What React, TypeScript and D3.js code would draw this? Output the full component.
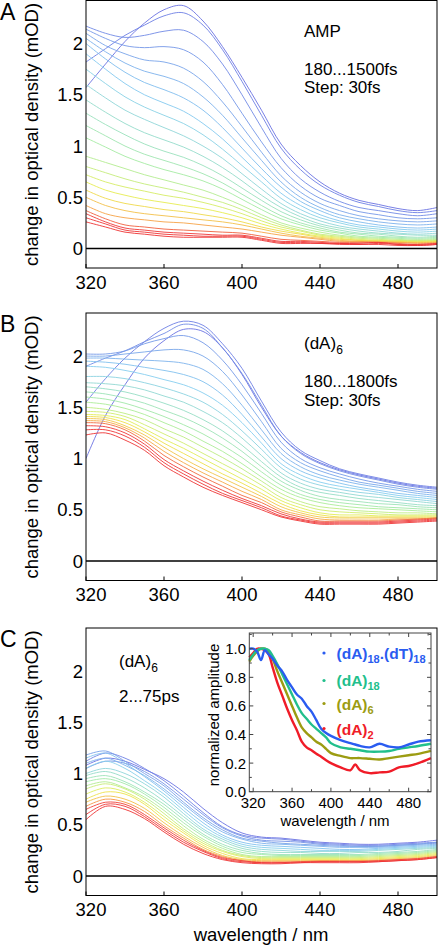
import React from "react";
import * as d3 from "d3";

// ---------- DATA ----------
const WL = [320, 330, 340, 350, 360, 370, 380, 390, 400, 410, 420, 430, 440, 450, 460, 470, 480, 490, 500];

// Panel A: AMP, 180...1500 fs (early -> late)
const ampSpectra = [
  [1.57, 1.80, 2.02, 2.20, 2.33, 2.37, 2.22, 1.97, 1.67, 1.35, 1.02, 0.81, 0.65, 0.54, 0.47, 0.43, 0.39, 0.37, 0.40],
  [1.82, 1.95, 2.08, 2.18, 2.27, 2.30, 2.18, 1.94, 1.63, 1.30, 0.98, 0.77, 0.62, 0.52, 0.45, 0.41, 0.37, 0.35, 0.37],
  [2.17, 2.10, 2.06, 2.08, 2.12, 2.13, 2.02, 1.80, 1.50, 1.18, 0.88, 0.68, 0.55, 0.46, 0.40, 0.37, 0.34, 0.32, 0.34],
  [2.14, 2.05, 1.98, 1.96, 1.97, 1.94, 1.82, 1.60, 1.32, 1.04, 0.79, 0.61, 0.49, 0.42, 0.36, 0.33, 0.30, 0.29, 0.30],
  [2.10, 1.98, 1.90, 1.84, 1.82, 1.76, 1.63, 1.43, 1.19, 0.94, 0.71, 0.55, 0.44, 0.37, 0.32, 0.29, 0.27, 0.26, 0.27],
  [2.05, 1.92, 1.81, 1.73, 1.68, 1.61, 1.48, 1.30, 1.08, 0.86, 0.65, 0.50, 0.40, 0.33, 0.29, 0.26, 0.24, 0.23, 0.24],
  [2.00, 1.85, 1.72, 1.62, 1.55, 1.47, 1.35, 1.18, 0.98, 0.78, 0.60, 0.46, 0.37, 0.30, 0.26, 0.23, 0.21, 0.20, 0.21],
  [1.90, 1.75, 1.61, 1.50, 1.42, 1.34, 1.22, 1.07, 0.89, 0.71, 0.54, 0.42, 0.33, 0.27, 0.23, 0.21, 0.19, 0.18, 0.19],
  [1.75, 1.61, 1.48, 1.38, 1.30, 1.22, 1.11, 0.97, 0.81, 0.65, 0.49, 0.38, 0.30, 0.25, 0.21, 0.19, 0.17, 0.16, 0.17],
  [1.60, 1.47, 1.35, 1.26, 1.18, 1.10, 1.00, 0.88, 0.73, 0.58, 0.44, 0.34, 0.27, 0.22, 0.19, 0.17, 0.15, 0.14, 0.15],
  [1.45, 1.33, 1.22, 1.13, 1.06, 0.99, 0.90, 0.79, 0.66, 0.52, 0.40, 0.31, 0.24, 0.20, 0.17, 0.15, 0.14, 0.13, 0.13],
  [1.32, 1.21, 1.11, 1.02, 0.95, 0.89, 0.81, 0.71, 0.59, 0.47, 0.36, 0.28, 0.22, 0.18, 0.15, 0.14, 0.12, 0.11, 0.12],
  [1.20, 1.10, 1.00, 0.92, 0.86, 0.80, 0.73, 0.64, 0.53, 0.42, 0.32, 0.25, 0.20, 0.16, 0.14, 0.12, 0.11, 0.10, 0.11],
  [1.08, 0.99, 0.90, 0.83, 0.77, 0.72, 0.66, 0.58, 0.48, 0.38, 0.29, 0.23, 0.18, 0.15, 0.12, 0.11, 0.10, 0.09, 0.10],
  [0.90, 0.84, 0.78, 0.72, 0.67, 0.62, 0.57, 0.50, 0.42, 0.33, 0.25, 0.20, 0.16, 0.13, 0.11, 0.10, 0.09, 0.08, 0.09],
  [0.80, 0.74, 0.68, 0.63, 0.59, 0.55, 0.50, 0.45, 0.38, 0.30, 0.23, 0.18, 0.14, 0.12, 0.10, 0.09, 0.08, 0.08, 0.08],
  [0.72, 0.65, 0.60, 0.56, 0.52, 0.49, 0.45, 0.40, 0.34, 0.27, 0.21, 0.17, 0.13, 0.11, 0.09, 0.08, 0.08, 0.07, 0.08],
  [0.65, 0.57, 0.52, 0.48, 0.45, 0.42, 0.39, 0.35, 0.30, 0.24, 0.19, 0.15, 0.12, 0.10, 0.08, 0.08, 0.07, 0.07, 0.07],
  [0.57, 0.49, 0.44, 0.41, 0.38, 0.36, 0.33, 0.30, 0.26, 0.21, 0.17, 0.14, 0.11, 0.09, 0.08, 0.07, 0.07, 0.06, 0.07],
  [0.50, 0.42, 0.37, 0.34, 0.32, 0.30, 0.28, 0.26, 0.23, 0.19, 0.15, 0.12, 0.10, 0.08, 0.07, 0.07, 0.06, 0.06, 0.06],
  [0.42, 0.34, 0.30, 0.28, 0.26, 0.25, 0.23, 0.21, 0.19, 0.16, 0.13, 0.11, 0.09, 0.07, 0.07, 0.06, 0.06, 0.05, 0.06],
  [0.37, 0.29, 0.23, 0.21, 0.19, 0.18, 0.17, 0.16, 0.15, 0.12, 0.09, 0.08, 0.07, 0.06, 0.06, 0.06, 0.05, 0.04, 0.05],
  [0.34, 0.26, 0.20, 0.18, 0.16, 0.15, 0.14, 0.13, 0.13, 0.10, 0.07, 0.07, 0.06, 0.05, 0.05, 0.06, 0.04, 0.04, 0.05],
  [0.30, 0.24, 0.18, 0.16, 0.14, 0.13, 0.12, 0.12, 0.12, 0.09, 0.06, 0.06, 0.05, 0.05, 0.04, 0.05, 0.04, 0.03, 0.04],
  [0.26, 0.21, 0.16, 0.14, 0.12, 0.11, 0.11, 0.11, 0.11, 0.08, 0.05, 0.05, 0.05, 0.04, 0.04, 0.04, 0.03, 0.03, 0.04],
];

// Panel B: (dA)6, 180...1800 fs
const dA6fsSpectra = [
  [1.00, 1.42, 1.72, 1.98, 2.15, 2.26, 2.24, 2.08, 1.82, 1.50, 1.22, 1.06, 0.96, 0.89, 0.84, 0.80, 0.76, 0.73, 0.71],
  [1.55, 1.78, 1.98, 2.14, 2.27, 2.34, 2.30, 2.12, 1.88, 1.56, 1.26, 1.08, 0.98, 0.90, 0.85, 0.81, 0.77, 0.74, 0.72],
  [1.90, 1.98, 2.05, 2.14, 2.22, 2.31, 2.27, 2.08, 1.83, 1.52, 1.22, 1.05, 0.95, 0.88, 0.83, 0.79, 0.75, 0.72, 0.70],
  [2.02, 2.02, 2.05, 2.12, 2.17, 2.20, 2.13, 1.96, 1.72, 1.44, 1.16, 1.00, 0.91, 0.85, 0.80, 0.76, 0.73, 0.70, 0.68],
  [2.00, 2.00, 2.02, 2.04, 2.06, 2.06, 2.00, 1.85, 1.62, 1.36, 1.10, 0.96, 0.88, 0.82, 0.77, 0.74, 0.71, 0.68, 0.66],
  [1.98, 1.98, 1.97, 1.96, 1.95, 1.93, 1.87, 1.73, 1.52, 1.28, 1.05, 0.92, 0.84, 0.79, 0.75, 0.72, 0.69, 0.66, 0.64],
  [1.95, 1.94, 1.92, 1.89, 1.86, 1.82, 1.75, 1.62, 1.43, 1.21, 1.00, 0.88, 0.81, 0.76, 0.72, 0.69, 0.66, 0.64, 0.62],
  [1.90, 1.89, 1.86, 1.82, 1.77, 1.72, 1.64, 1.52, 1.35, 1.15, 0.95, 0.84, 0.77, 0.73, 0.70, 0.67, 0.64, 0.62, 0.60],
  [1.80, 1.80, 1.78, 1.74, 1.69, 1.63, 1.55, 1.43, 1.27, 1.09, 0.91, 0.80, 0.74, 0.70, 0.67, 0.65, 0.62, 0.60, 0.58],
  [1.74, 1.73, 1.71, 1.67, 1.61, 1.55, 1.46, 1.35, 1.20, 1.03, 0.86, 0.76, 0.70, 0.67, 0.64, 0.62, 0.60, 0.58, 0.56],
  [1.70, 1.68, 1.65, 1.60, 1.54, 1.47, 1.38, 1.27, 1.13, 0.97, 0.82, 0.72, 0.67, 0.64, 0.61, 0.59, 0.57, 0.55, 0.54],
  [1.65, 1.63, 1.59, 1.54, 1.47, 1.40, 1.31, 1.20, 1.07, 0.92, 0.78, 0.69, 0.63, 0.60, 0.58, 0.56, 0.55, 0.53, 0.52],
  [1.60, 1.58, 1.54, 1.48, 1.41, 1.33, 1.24, 1.13, 1.01, 0.87, 0.74, 0.65, 0.60, 0.57, 0.55, 0.53, 0.52, 0.51, 0.50],
  [1.55, 1.53, 1.49, 1.43, 1.35, 1.27, 1.17, 1.07, 0.95, 0.82, 0.70, 0.62, 0.57, 0.54, 0.52, 0.51, 0.50, 0.49, 0.48],
  [1.50, 1.48, 1.44, 1.38, 1.29, 1.21, 1.11, 1.01, 0.90, 0.78, 0.66, 0.58, 0.53, 0.51, 0.49, 0.48, 0.47, 0.47, 0.46],
  [1.46, 1.45, 1.41, 1.33, 1.24, 1.15, 1.05, 0.95, 0.85, 0.74, 0.62, 0.55, 0.50, 0.48, 0.47, 0.46, 0.45, 0.45, 0.45],
  [1.43, 1.42, 1.38, 1.29, 1.19, 1.10, 1.00, 0.90, 0.80, 0.70, 0.59, 0.52, 0.47, 0.45, 0.45, 0.44, 0.44, 0.44, 0.44],
  [1.41, 1.40, 1.35, 1.26, 1.15, 1.05, 0.95, 0.85, 0.76, 0.66, 0.56, 0.49, 0.45, 0.43, 0.43, 0.43, 0.43, 0.43, 0.43],
  [1.39, 1.38, 1.32, 1.23, 1.11, 1.00, 0.90, 0.81, 0.72, 0.63, 0.53, 0.47, 0.43, 0.42, 0.42, 0.42, 0.42, 0.42, 0.42],
  [1.37, 1.36, 1.30, 1.20, 1.07, 0.96, 0.86, 0.77, 0.68, 0.60, 0.50, 0.45, 0.41, 0.40, 0.40, 0.40, 0.41, 0.41, 0.42],
  [1.35, 1.34, 1.28, 1.17, 1.03, 0.92, 0.82, 0.73, 0.64, 0.57, 0.48, 0.43, 0.39, 0.39, 0.39, 0.39, 0.40, 0.41, 0.42],
  [1.32, 1.31, 1.25, 1.14, 0.99, 0.88, 0.78, 0.69, 0.61, 0.54, 0.46, 0.41, 0.38, 0.38, 0.38, 0.38, 0.39, 0.40, 0.41],
  [1.28, 1.28, 1.22, 1.11, 0.96, 0.85, 0.75, 0.66, 0.59, 0.52, 0.44, 0.40, 0.37, 0.37, 0.37, 0.37, 0.38, 0.39, 0.40],
  [1.23, 1.25, 1.18, 1.08, 0.93, 0.82, 0.72, 0.64, 0.57, 0.50, 0.43, 0.39, 0.36, 0.36, 0.36, 0.36, 0.37, 0.38, 0.39],
];

// Panel C: (dA)6, 2...75 ps
const dA6psSpectra = [
  [1.08, 1.15, 1.12, 1.04, 0.95, 0.82, 0.66, 0.52, 0.42, 0.38, 0.37, 0.35, 0.33, 0.32, 0.31, 0.31, 0.32, 0.33, 0.35],
  [1.12, 1.20, 1.15, 1.05, 0.93, 0.78, 0.62, 0.48, 0.40, 0.37, 0.36, 0.34, 0.32, 0.31, 0.30, 0.30, 0.31, 0.32, 0.33],
  [1.05, 1.12, 1.10, 1.02, 0.90, 0.75, 0.60, 0.47, 0.39, 0.35, 0.34, 0.33, 0.31, 0.30, 0.29, 0.29, 0.30, 0.31, 0.32],
  [1.18, 1.22, 1.12, 1.00, 0.88, 0.72, 0.57, 0.45, 0.37, 0.34, 0.32, 0.31, 0.30, 0.29, 0.29, 0.29, 0.30, 0.31, 0.33],
  [1.10, 1.15, 1.08, 0.98, 0.85, 0.70, 0.55, 0.43, 0.36, 0.32, 0.31, 0.30, 0.29, 0.28, 0.28, 0.28, 0.29, 0.30, 0.31],
  [1.15, 1.20, 1.10, 0.97, 0.83, 0.67, 0.52, 0.40, 0.33, 0.30, 0.29, 0.28, 0.27, 0.26, 0.26, 0.27, 0.28, 0.29, 0.30],
  [1.05, 1.12, 1.05, 0.93, 0.80, 0.64, 0.49, 0.38, 0.31, 0.28, 0.27, 0.26, 0.25, 0.25, 0.25, 0.26, 0.27, 0.28, 0.29],
  [1.00, 1.05, 1.00, 0.90, 0.77, 0.61, 0.46, 0.36, 0.29, 0.26, 0.25, 0.24, 0.24, 0.24, 0.24, 0.25, 0.26, 0.27, 0.28],
  [0.98, 1.02, 0.96, 0.86, 0.73, 0.58, 0.44, 0.34, 0.27, 0.24, 0.23, 0.23, 0.22, 0.22, 0.23, 0.23, 0.24, 0.26, 0.27],
  [0.95, 0.98, 0.92, 0.82, 0.70, 0.55, 0.41, 0.31, 0.25, 0.22, 0.21, 0.21, 0.21, 0.21, 0.21, 0.22, 0.23, 0.24, 0.26],
  [0.92, 0.95, 0.90, 0.80, 0.67, 0.52, 0.39, 0.29, 0.23, 0.21, 0.20, 0.20, 0.20, 0.20, 0.20, 0.21, 0.22, 0.23, 0.25],
  [0.88, 0.92, 0.86, 0.77, 0.64, 0.49, 0.36, 0.27, 0.21, 0.19, 0.19, 0.19, 0.19, 0.19, 0.19, 0.20, 0.21, 0.22, 0.24],
  [0.85, 0.90, 0.85, 0.75, 0.61, 0.46, 0.34, 0.25, 0.20, 0.18, 0.18, 0.18, 0.18, 0.18, 0.18, 0.19, 0.20, 0.21, 0.23],
  [0.80, 0.86, 0.82, 0.72, 0.58, 0.44, 0.32, 0.24, 0.19, 0.17, 0.17, 0.17, 0.17, 0.17, 0.17, 0.18, 0.19, 0.20, 0.22],
  [0.75, 0.82, 0.80, 0.70, 0.55, 0.42, 0.30, 0.22, 0.17, 0.16, 0.16, 0.16, 0.16, 0.16, 0.16, 0.17, 0.18, 0.19, 0.21],
  [0.72, 0.78, 0.75, 0.66, 0.52, 0.39, 0.28, 0.20, 0.16, 0.15, 0.15, 0.15, 0.15, 0.15, 0.15, 0.16, 0.17, 0.18, 0.20],
  [0.68, 0.75, 0.72, 0.63, 0.49, 0.37, 0.26, 0.19, 0.15, 0.14, 0.14, 0.14, 0.15, 0.15, 0.15, 0.15, 0.16, 0.17, 0.19],
  [0.65, 0.72, 0.70, 0.60, 0.47, 0.35, 0.25, 0.18, 0.15, 0.13, 0.13, 0.14, 0.14, 0.14, 0.14, 0.15, 0.16, 0.17, 0.19],
  [0.60, 0.70, 0.68, 0.58, 0.45, 0.33, 0.24, 0.17, 0.14, 0.13, 0.13, 0.13, 0.14, 0.14, 0.14, 0.14, 0.15, 0.16, 0.18],
  [0.55, 0.68, 0.65, 0.56, 0.43, 0.31, 0.22, 0.16, 0.13, 0.12, 0.12, 0.13, 0.13, 0.13, 0.13, 0.14, 0.15, 0.16, 0.18],
];

// Inset: normalized amplitude
const insetWL = [316, 320, 324, 328, 332, 336, 340, 345, 350, 355, 360, 365, 370, 375, 380, 385, 390, 395, 400, 410, 420, 425, 430, 440, 450, 460, 470, 480, 490, 503];
const insetDA18DT18 = [1.00, 1.00, 0.98, 0.92, 0.99, 0.96, 0.93, 0.88, 0.84, 0.78, 0.73, 0.68, 0.65, 0.60, 0.56, 0.50, 0.44, 0.41, 0.39, 0.36, 0.34, 0.33, 0.32, 0.31, 0.335, 0.315, 0.31, 0.33, 0.35, 0.36];
const insetDA18 = [0.92, 0.96, 0.99, 1.00, 1.00, 0.99, 0.95, 0.89, 0.82, 0.75, 0.68, 0.61, 0.55, 0.51, 0.47, 0.44, 0.41, 0.38, 0.34, 0.31, 0.30, 0.295, 0.29, 0.28, 0.28, 0.285, 0.30, 0.31, 0.32, 0.335];
const insetDA6 = [0.91, 0.95, 0.98, 1.00, 1.00, 0.98, 0.93, 0.84, 0.76, 0.68, 0.60, 0.52, 0.45, 0.41, 0.38, 0.35, 0.33, 0.30, 0.27, 0.25, 0.235, 0.235, 0.235, 0.23, 0.225, 0.235, 0.245, 0.255, 0.265, 0.285];
const insetDA2 = [0.94, 0.97, 1.00, 1.00, 0.99, 0.96, 0.87, 0.76, 0.67, 0.58, 0.50, 0.43, 0.35, 0.31, 0.29, 0.265, 0.245, 0.22, 0.20, 0.17, 0.15, 0.19, 0.15, 0.13, 0.135, 0.14, 0.17, 0.18, 0.20, 0.235];

const xTicks = [320, 360, 400, 440, 480];
const yTicks = [0, 0.5, 1, 1.5, 2];
const yTickLabels = ["0", "0.5", "1", "1.5", "2"];
const insetYTicks = [0, 0.2, 0.4, 0.6, 0.8, 1.0];
const insetYTickLabels = ["0.0", "0.2", "0.4", "0.6", "0.8", "1.0"];

// ---------- STYLE ----------
const FONT = "'Liberation Sans', Arial, Helvetica, sans-serif";
const PAL_STOPS = [0, 0.3, 0.55, 0.72, 0.83, 0.9, 1];
const PAL_COLORS = ["#6a72e2", "#86cdf0", "#a6eca0", "#ecec4c", "#f6a848", "#ee3a3a", "#ee3434"];
const palette = d3.scaleLinear<string>().domain(PAL_STOPS).range(PAL_COLORS).interpolate(d3.interpolateRgb);

const X0 = 86, X1 = 437, PH = 267.5;
const xMain = d3.scaleLinear().domain([320, 500]).range([X0, X1]);

function Panel({ top, spectra, letter, id, children }: any) {
  const y = d3.scaleLinear().domain([-0.19, 2.42]).range([top + PH, top]);
  const line = d3.line<number>()
    .x((_, i) => xMain(WL[i]))
    .y((v) => y(v))
    .curve(d3.curveCatmullRom.alpha(0.5));
  const n = spectra.length;
  return (
    <g>
      <defs>
        <clipPath id={id}>
          <rect x={X0} y={top} width={X1 - X0} height={PH} />
        </clipPath>
      </defs>
      <g clipPath={`url(#${id})`}>
        {spectra.map((s: number[], i: number) => (
          <path key={i} d={line(s) || ""} fill="none" stroke={palette(i / (n - 1))}
            strokeWidth={1} strokeOpacity={0.9} />
        ))}
      </g>
      <line x1={X0} x2={X1} y1={y(0)} y2={y(0)} stroke="#000" strokeWidth={1.5} />
      <rect x={X0} y={top} width={X1 - X0} height={PH} fill="none" stroke="#000" strokeWidth={1} />
      {xTicks.map((t) => (
        <g key={t}>
          <line x1={xMain(t)} x2={xMain(t)} y1={top + PH} y2={top + PH - 4} stroke="#000" strokeWidth={1} />
          <text x={xMain(t) + (t === 320 ? 5 : 0)} y={top + 288} textAnchor="middle" fontSize={18.5} fontFamily={FONT}>{t}</text>
        </g>
      ))}
      {yTicks.map((t, i) => (
        <text key={t} x={83} y={y(t)} dy="0.36em" textAnchor="end" fontSize={18.5} fontFamily={FONT}>{yTickLabels[i]}</text>
      ))}
      <text transform={`translate(38, ${top + 134}) rotate(-90)`} textAnchor="middle" fontSize={18.5} fontFamily={FONT}>
        change in optical density (mOD)
      </text>
      <text x={0} y={top + 19} fontSize={23} fontFamily={FONT}>{letter}</text>
      {children}
    </g>
  );
}

function Inset() {
  const xI = d3.scaleLinear().domain([316, 503]).range([249.3, 431]);
  const yI = d3.scaleLinear().domain([0, 1.11]).range([791.7, 633]);
  const line = d3.line<number>().x((_, i) => xI(insetWL[i])).y((v) => yI(v)).curve(d3.curveCatmullRom.alpha(0.5));
  const series = [
    { vals: insetDA2, color: "#f01c28" },
    { vals: insetDA6, color: "#9c9c12" },
    { vals: insetDA18, color: "#22bf8c" },
    { vals: insetDA18DT18, color: "#2a5cf0" },
  ];
  const l = 249.3, r = 431, t = 633, b = 791.7;
  const xMajor = [320, 360, 400, 440, 480];
  const xMinor = [340, 380, 420, 460, 500];
  const yMinor = [0.1, 0.3, 0.5, 0.7, 0.9, 1.1];
  return (
    <g>
      <rect x={l} y={t} width={r - l} height={b - t} fill="#fff" />
      {series.map((s, i) => (
        <path key={i} d={line(s.vals) || ""} fill="none" stroke={s.color} strokeWidth={2.4} />
      ))}
      <rect x={l} y={t} width={r - l} height={b - t} fill="none" stroke="#444" strokeWidth={1} />
      {xMajor.map((v) => (
        <g key={v}>
          <line x1={xI(v)} x2={xI(v)} y1={b} y2={b - 4} stroke="#444" />
          <line x1={xI(v)} x2={xI(v)} y1={t} y2={t + 4} stroke="#444" />
          <text x={xI(v)} y={808} textAnchor="middle" fontSize={15} fontFamily={FONT}>{v}</text>
        </g>
      ))}
      {xMinor.map((v) => (
        <g key={v}>
          <line x1={xI(v)} x2={xI(v)} y1={b} y2={b - 2.5} stroke="#444" />
          <line x1={xI(v)} x2={xI(v)} y1={t} y2={t + 2.5} stroke="#444" />
        </g>
      ))}
      {insetYTicks.map((v, i) => (
        <g key={v}>
          <line x1={l} x2={l + 4} y1={yI(v)} y2={yI(v)} stroke="#444" />
          <line x1={r} x2={r - 4} y1={yI(v)} y2={yI(v)} stroke="#444" />
          <text x={246} y={yI(v)} dy="0.36em" textAnchor="end" fontSize={15} fontFamily={FONT}>{insetYTickLabels[i]}</text>
        </g>
      ))}
      {yMinor.map((v) => (
        <g key={v}>
          <line x1={l} x2={l + 2.5} y1={yI(v)} y2={yI(v)} stroke="#444" />
          <line x1={r} x2={r - 2.5} y1={yI(v)} y2={yI(v)} stroke="#444" />
        </g>
      ))}
      <text x={335} y={826} textAnchor="middle" fontSize={15} fontFamily={FONT}>wavelength / nm</text>
      <text transform="translate(219, 715) rotate(-90)" textAnchor="middle" fontSize={15} fontFamily={FONT}>normalized amplitude</text>
      {/* legend */}
      <g fontFamily={FONT} fontWeight="bold" fontSize={15.5}>
        <circle cx={324} cy={653} r={1.6} fill="#2a5cf0" />
        <text x={336.5} y={659} fill="#2a5cf0">(dA)<tspan fontSize={11} dy={4}>18</tspan><tspan dy={-4}>.(dT)</tspan><tspan fontSize={11} dy={4}>18</tspan></text>
        <circle cx={324} cy={680.5} r={1.6} fill="#22bf8c" />
        <text x={336.5} y={686} fill="#22bf8c">(dA)<tspan fontSize={11} dy={4}>18</tspan></text>
        <circle cx={324} cy={703.5} r={1.6} fill="#9c9c12" />
        <text x={336.5} y={710} fill="#9c9c12">(dA)<tspan fontSize={11} dy={4}>6</tspan></text>
        <circle cx={324} cy={728.5} r={1.6} fill="#f01c28" />
        <text x={336.5} y={735} fill="#f01c28">(dA)<tspan fontSize={11} dy={4}>2</tspan></text>
      </g>
    </g>
  );
}

export default function App() {
  const TA = 0.5, TB = 313, TC = 628;
  return (
    <svg width={439} height={947} style={{ position: "absolute", left: 0, top: 0, background: "#fff" }}>
      <rect x={0} y={0} width={439} height={947} fill="#fff" />
      <Panel top={TA} spectra={ampSpectra} letter="A" id="clipA">
        <g fontFamily={FONT} fontSize={17}>
          <text x={304} y={TA + 36}>AMP</text>
          <text x={304} y={TA + 74}>180...1500fs</text>
          <text x={304} y={TA + 92.5}>Step: 30fs</text>
        </g>
      </Panel>
      <Panel top={TB} spectra={dA6fsSpectra} letter="B" id="clipB">
        <g fontFamily={FONT} fontSize={17}>
          <text x={304} y={TB + 36}>(dA)<tspan fontSize={12} dy={5}>6</tspan></text>
          <text x={304} y={TB + 73.5}>180...1800fs</text>
          <text x={304} y={TB + 92.5}>Step: 30fs</text>
        </g>
      </Panel>
      <Panel top={TC} spectra={dA6psSpectra} letter="C" id="clipC">
        <g fontFamily={FONT} fontSize={17}>
          <text x={119} y={TC + 38.5}>(dA)<tspan fontSize={12} dy={5}>6</tspan></text>
          <text x={119} y={TC + 74}>2...75ps</text>
        </g>
        <text x={261} y={941} textAnchor="middle" fontSize={18.5} fontFamily={FONT}>wavelength / nm</text>
      </Panel>
      <Inset />
    </svg>
  );
}
